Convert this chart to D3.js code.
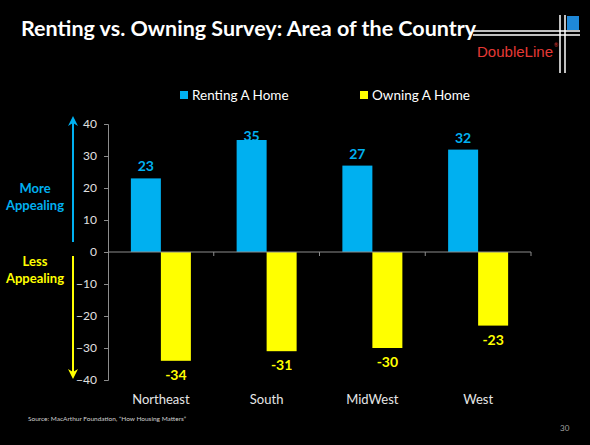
<!DOCTYPE html>
<html>
<head>
<meta charset="utf-8">
<script src="https://cdn.jsdelivr.net/npm/d3@7"></script>
<style>
  html, body { margin: 0; padding: 0; background: #000; }
  svg { display: block; font-family: Lato, "Open Sans", sans-serif; }
</style>
</head>
<body>
<div id="chart"></div>
<script>
// data
const regions = ["Northeast", "South", "MidWest", "West"];
const seriesNames = ["Renting A Home", "Owning A Home"];
const renting = [23, 35, 27, 32];
const owning = [-34, -31, -30, -23];
const yTicks = [-40, -30, -20, -10, 0, 10, 20, 30, 40];

const seriesColors = ["#00B0F0", "#FFFF00"];

const width = 590, height = 445;
const svg = d3.select("#chart").append("svg")
    .attr("width", width)
    .attr("height", height);

svg.append("rect").attr("width", width).attr("height", height).attr("fill", "#000");

// title
svg.append("text")
    .attr("x", 21).attr("y", 36)
    .attr("fill", "#fff")
    .style("font-size", "21.5px")
    .style("font-weight", "bold")
    .text("Renting vs. Owning Survey: Area of the Country");

// DoubleLine logo lines
const logo = svg.append("g");
[31, 35].forEach(y => logo.append("line")
    .attr("x1", 473).attr("x2", 580).attr("y1", y).attr("y2", y)
    .attr("stroke", "#fff").attr("stroke-width", 1.5));
[560, 565].forEach(x => logo.append("line")
    .attr("x1", x).attr("x2", x).attr("y1", 15).attr("y2", 73)
    .attr("stroke", "#fff").attr("stroke-width", 1.5));
logo.append("rect").attr("x", 567).attr("y", 16).attr("width", 12).attr("height", 14)
    .attr("fill", "#1E88D8");
logo.append("text")
    .attr("x", 477).attr("y", 57)
    .attr("fill", "#E53935")
    .attr("textLength", 76)
    .attr("lengthAdjust", "spacingAndGlyphs")
    .style("font-size", "14.5px")
    .style("font-family", "'Liberation Sans', Arial, sans-serif")
    .text("DoubleLine");
logo.append("text")
    .attr("x", 554).attr("y", 47)
    .attr("fill", "#E53935")
    .style("font-size", "5px")
    .text("®");

// scales
const x0 = d3.scaleBand().domain(regions).range([108, 531]);
const x1 = d3.scaleBand().domain(seriesNames).range([0, x0.bandwidth()]).paddingOuter(0.7625);
const y = d3.scaleLinear().domain([-40, 40]).range([380, 124]);

// legend
const legend = svg.append("g");
const legendX = [180, 360];
seriesNames.forEach((name, i) => {
    legend.append("rect")
        .attr("x", legendX[i]).attr("y", 91)
        .attr("width", 8).attr("height", 8)
        .attr("fill", seriesColors[i]);
    legend.append("text")
        .attr("x", legendX[i] + 12).attr("y", 100)
        .attr("fill", "#fff")
        .style("font-size", "13.5px")
        .text(name);
});

// y axis
const yAxis = svg.append("g")
    .attr("transform", `translate(${108},0)`)
    .call(d3.axisLeft(y).tickValues(yTicks).tickSize(4).tickPadding(7).tickFormat(d3.format("d")));
yAxis.select(".domain").attr("stroke", "#8c8c8c");
yAxis.selectAll(".tick line").attr("stroke", "#8c8c8c");
yAxis.selectAll(".tick text")
    .attr("fill", "#e0e0e0")
    .style("font-size", "12px")
    .style("font-family", "Lato, sans-serif");

// bars
const rows = regions.map((r, i) => ({region: r, values: [renting[i], owning[i]]}));
const groups = svg.selectAll("g.region")
    .data(rows)
    .join("g")
    .attr("class", "region")
    .attr("transform", d => `translate(${x0(d.region)},0)`);

groups.selectAll("rect")
    .data(d => d.values.map((v, i) => ({name: seriesNames[i], v: v, i: i})))
    .join("rect")
    .attr("x", d => x1(d.name))
    .attr("width", x1.bandwidth())
    .attr("y", d => y(Math.max(0, d.v)))
    .attr("height", d => Math.abs(y(d.v) - y(0)))
    .attr("fill", d => seriesColors[d.i]);

// value labels
groups.selectAll("text.val")
    .data(d => d.values.map((v, i) => ({name: seriesNames[i], v: v, i: i})))
    .join("text")
    .attr("class", "val")
    .attr("x", d => x1(d.name) + x1.bandwidth() / 2)
    .attr("y", d => d.v > 0 ? Math.max(y(d.v) - 7, 141) : y(d.v) + 19)
    .attr("text-anchor", "middle")
    .attr("fill", d => seriesColors[d.i])
    .style("font-size", "14px")
    .style("font-weight", "bold")
    .text(d => d.v);

// zero axis with ticks at category boundaries
const zeroAxis = svg.append("g").attr("transform", `translate(0,${y(0)})`);
zeroAxis.append("line")
    .attr("x1", 108).attr("x2", 531)
    .attr("stroke", "#8c8c8c");
const bounds = regions.map(r => x0(r) + x0.bandwidth());
zeroAxis.selectAll("line.tk")
    .data(bounds)
    .join("line")
    .attr("class", "tk")
    .attr("x1", d => d).attr("x2", d => d)
    .attr("y1", 0).attr("y2", 4)
    .attr("stroke", "#8c8c8c");

// category labels
svg.selectAll("text.cat")
    .data(regions)
    .join("text")
    .attr("class", "cat")
    .attr("x", d => x0(d) + x0.bandwidth() / 2)
    .attr("y", 404)
    .attr("text-anchor", "middle")
    .attr("fill", "#e6e6e6")
    .style("font-size", "13px")
    .text(d => d);

// appeal arrows
const defs = svg.append("defs");
seriesColors.forEach((c, i) => {
    defs.append("marker")
        .attr("id", "arr" + i)
        .attr("viewBox", "0 0 10 10")
        .attr("refX", 5).attr("refY", 5)
        .attr("markerWidth", 5).attr("markerHeight", 5)
        .attr("orient", "auto")
        .append("path")
        .attr("d", "M0,0 L10,5 L0,10 L3,5 Z")
        .attr("fill", c);
});
svg.append("line")
    .attr("x1", 73).attr("x2", 73).attr("y1", 242).attr("y2", 121)
    .attr("stroke", seriesColors[0]).attr("stroke-width", 2)
    .attr("marker-end", "url(#arr0)");
svg.append("line")
    .attr("x1", 73).attr("x2", 73).attr("y1", 256).attr("y2", 374)
    .attr("stroke", seriesColors[1]).attr("stroke-width", 2)
    .attr("marker-end", "url(#arr1)");

const appealText = [
    {lines: ["More", "Appealing"], y: 193, color: seriesColors[0]},
    {lines: ["Less", "Appealing"], y: 266, color: seriesColors[1]}
];
appealText.forEach(t => {
    t.lines.forEach((s, j) => svg.append("text")
        .attr("x", 35).attr("y", t.y + j * 17)
        .attr("text-anchor", "middle")
        .attr("fill", t.color)
        .style("font-size", "13px")
        .style("font-weight", "bold")
        .text(s));
});

// footer
svg.append("text")
    .attr("x", 28).attr("y", 421)
    .attr("fill", "#d0d0d0")
    .style("font-size", "6.5px")
    .text("Source: MacArthur Foundation, \u201CHow Housing Matters\u201D");
svg.append("text")
    .attr("x", 560).attr("y", 431)
    .attr("fill", "#a0a0a0")
    .style("font-size", "8px")
    .text("30");
</script>
</body>
</html>
